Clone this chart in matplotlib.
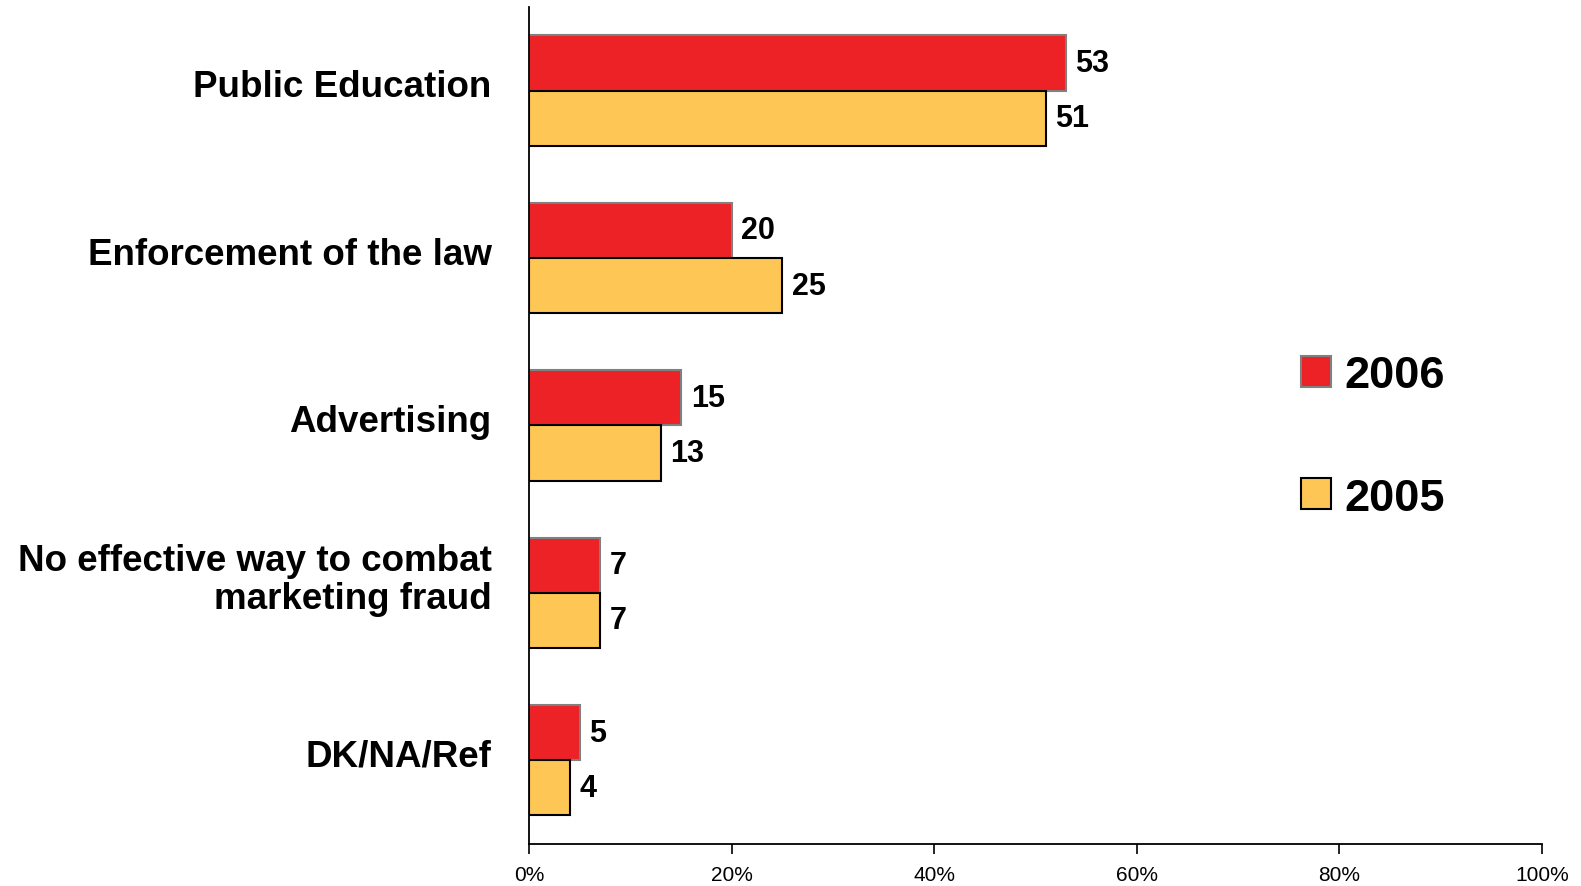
import numpy as np
from matplotlib import pyplot as plt
from matplotlib.transforms import ScaledTranslation

categories = ["Public Education", "Enforcement of the law", "Advertising",
              "No effective way to combat\nmarketing fraud", "DK/NA/Ref"]
values_2006 = [53, 20, 15, 7, 5]
values_2005 = [51, 25, 13, 7, 4]
xticks = [0, 20, 40, 60, 80, 100]

plt.rcParams['font.family'] = ['Liberation Sans', 'DejaVu Sans']

def main():
    fig = plt.figure(figsize=(15.81, 8.87), dpi=100)
    ax = fig.add_axes([0.3346, 0.0474, 0.6407, 0.9436])

    y = np.arange(len(categories))
    h = 0.33
    b1 = ax.barh(y - h / 2, values_2006, height=h, color="#ED2226",
                 edgecolor="#808080", lw=1.5, label="2006")
    b2 = ax.barh(y + h / 2, values_2005, height=h, color="#FEC755",
                 edgecolor="black", lw=1.5, label="2005")
    ax.bar_label(b1, padding=7, fontsize=22, fontweight="bold")
    ax.bar_label(b2, padding=7, fontsize=22, fontweight="bold")

    ax.set_ylim(len(categories) - 0.5, -0.5)
    ax.set_xlim(0, 100)
    ax.set_yticks(y)
    ax.set_yticklabels(categories, fontsize=26.5, fontweight="bold",
                       linespacing=1.1)
    ax.tick_params(axis="y", length=0, pad=27)
    # lift the category labels a little above the bar pairs
    for lbl in ax.get_yticklabels():
        dy = 19 if "\n" in lbl.get_text() else 8
        lbl.set_transform(lbl.get_transform() +
                          ScaledTranslation(0, dy / 100, fig.dpi_scale_trans))

    ax.set_xticks(xticks)
    ax.set_xticklabels([f"{t}%" for t in xticks], fontsize=15)
    ax.tick_params(axis="x", length=7, width=1.2, direction="out", pad=8)

    for s in ["top", "right"]:
        ax.spines[s].set_visible(False)
    for s in ["left", "bottom"]:
        ax.spines[s].set_linewidth(1.3)

    fig.legend(handles=[b1, b2], loc="upper left",
               bbox_to_anchor=(0.797, 0.644), frameon=False,
               prop={"size": 32.5, "weight": "bold"},
               handlelength=0.67, handleheight=0.67, handletextpad=0.3,
               labelspacing=1.8)

    plt.savefig("out.png", dpi=100)

if __name__ == "__main__":
    main()
